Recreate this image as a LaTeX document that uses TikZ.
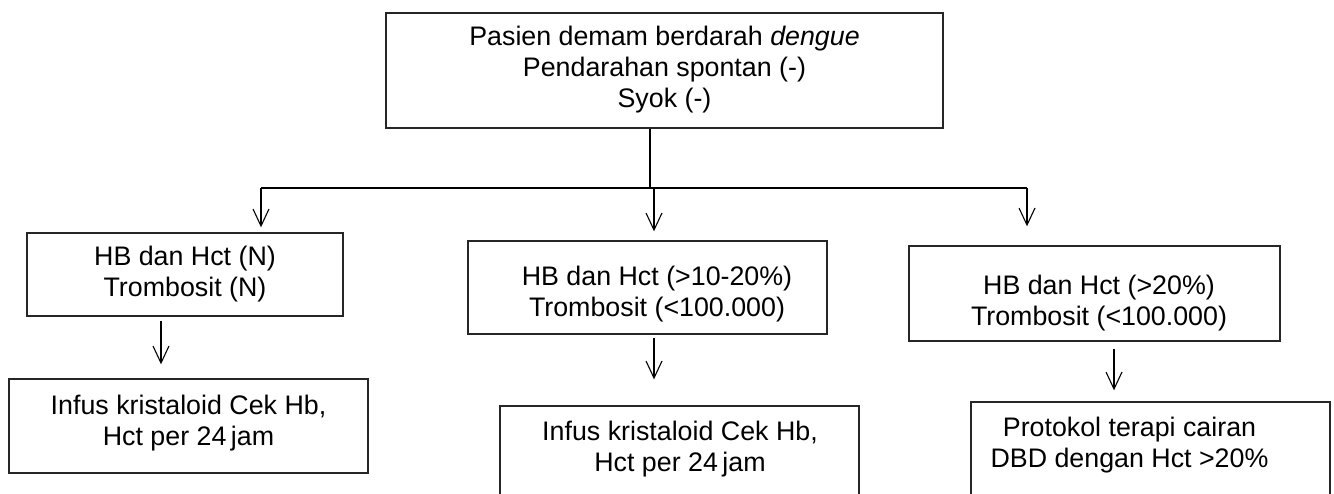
\documentclass[tikz,border=0pt]{standalone}
\usepackage{fontspec}
\setmainfont{Liberation Sans}
\usetikzlibrary{arrows.meta}
\begin{document}
\begin{tikzpicture}[x=1pt,y=-1pt,
  box/.style={draw=black!85,line width=1.4pt,inner sep=0pt},
  txt/.style={align=center,inner sep=0pt,font=\fontsize{26.8}{31}\selectfont},
  ln/.style={draw=black,line width=1.1pt},
  arr/.style={ln,-{Straight Barb[length=17pt,width=16pt,line width=1.1pt]}}]
\useasboundingbox (0,0) rectangle (1334,494);
\clip (0,0) rectangle (1334,494);
\fill[white] (0,0) rectangle (1334,494);
% boxes
\node[box,minimum width=557pt,minimum height=115pt] (top) at (664.5,70.5) {};
\node[box,minimum width=316pt,minimum height=83pt] (b1) at (185,274.5) {};
\node[box,minimum width=359pt,minimum height=93pt] (b2) at (647.5,287.5) {};
\node[box,minimum width=371pt,minimum height=95pt] (b3) at (1094.5,293.5) {};
\node[box,minimum width=359pt,minimum height=94pt] (b4) at (188.5,426) {};
\node[box,minimum width=359pt,minimum height=94pt] (b5) at (679.5,453) {};
\node[box,minimum width=359pt,minimum height=98pt] (b6) at (1150.5,451) {};
% texts
\node[txt] (t0) at (664.5,70) {Pasien demam berdarah \textit{dengue}\\Pendarahan spontan (-)\\Syok (-)};
\node[txt] (t1) at (185,274) {HB dan Hct (N)\\Trombosit (N)};
\node[txt] (t2) at (657,294) {HB dan Hct (>10-20\%)\\Trombosit (<100.000)};
\node[txt] (t3) at (1099,303) {HB dan Hct (>20\%)\\Trombosit (<100.000)};
\node[txt] (t4) at (188.5,423) {Infus kristaloid Cek Hb,\\Hct per 24\,jam};
\node[txt] (t5) at (680,449) {Infus kristaloid Cek Hb,\\Hct per 24\,jam};
\node[txt] (t6) at (1129.5,445) {Protokol terapi cairan\\DBD dengan Hct >20\%};
% connectors
\coordinate (j) at (650,188);
\coordinate (hL) at (261,188);
\coordinate (hM) at (654,188);
\coordinate (hR) at (1027,188);
\coordinate (a1) at (161,0);
\coordinate (a3) at (1114,0);
\draw[ln] (top.south -| j) -- (j);
\draw[ln] (hL) -- (hR);
\draw[arr,shorten >=5pt] (hL) -- (hL |- b1.north);
\draw[arr,shorten >=9pt] (hM) -- (hM |- b2.north);
\draw[arr,shorten >=19pt] (hR) -- (hR |- b3.north);
\draw[arr,shorten <=4pt,shorten >=14pt] (b1.south -| a1) -- (b4.north -| a1);
\draw[arr,shorten <=3pt,shorten >=26pt] (b2.south -| hM) -- (b5.north -| hM);
\draw[arr,shorten <=7pt,shorten >=11pt] (b3.south -| a3) -- (b6.north -| a3);
\end{tikzpicture}
\end{document}
